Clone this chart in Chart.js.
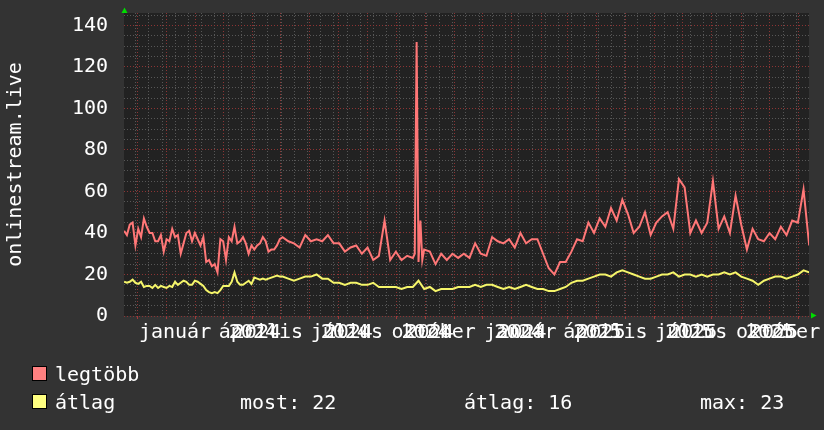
<!DOCTYPE html>
<html lang="hu">
<head>
  <meta charset="UTF-8" />
  <title>onlinestream.live</title>
  <script src="https://cdn.jsdelivr.net/npm/chart.js@4.4.1/dist/chart.umd.min.js"></script>
  <style>
    html, body { margin: 0; padding: 0; background: #333333; }
    #wrap { width: 824px; height: 430px; }
  </style>
</head>
<body>
  <div id="wrap"><canvas id="graph" width="824" height="430"></canvas></div>

  <script>
    // x values are days counted from 2023-12-01
    const rangeStart = -14.1;
    const rangeEnd = 711.8;

    // legtöbb (max)
    const maxDays = [
      -14, -11, -8, -5, -2, 1, 4, 7, 10, 13, 16, 19, 22, 25, 28, 31, 34, 37, 40, 43,
      46, 49, 52, 55, 58, 61, 64, 67, 70, 73, 76, 79, 82, 85, 88, 91, 94, 97, 100, 103,
      106, 109, 112, 115, 118, 121, 124, 127, 130, 133, 136, 139, 142, 145, 148, 151,
      154, 160, 166, 172, 178, 184, 190, 196, 202, 208, 214, 220, 226, 232, 238, 244,
      250, 256, 262, 268, 274, 280, 286,
      292, 294, 296, 298, 300, 302, 304,
      310, 316, 322, 328, 334, 340, 346, 352, 358, 364, 370, 376, 382, 388, 394, 400,
      406, 412, 418, 424, 430, 436, 442, 448, 454, 460, 466, 472, 478, 484, 490, 496,
      502, 508, 514, 520, 526, 532, 538, 544, 550, 556, 562, 568, 574, 580, 586, 592,
      598, 604, 610, 616, 622, 628, 634, 640, 646, 652, 658, 664, 670, 676, 682, 688,
      694, 700, 706, 712
    ];
    const maxValues = [
      41, 39, 44, 45, 34, 42, 38, 47, 43, 40, 40, 36, 36, 39, 31, 37, 36, 42, 38, 39,
      30, 35, 40, 41, 36, 40, 37, 34, 38, 26, 27, 24, 25, 21, 37, 36, 27, 38, 36, 43,
      35, 36, 38, 35, 30, 34, 32, 34, 35, 38, 36, 31, 32, 32, 34, 37,
      38, 36, 35, 33, 39, 36, 37, 36, 39, 35, 35, 31, 33, 34, 30, 33,
      27, 29, 46, 27, 31, 27, 29,
      28, 30, 132, 26, 46, 27, 32,
      31, 25, 30, 27, 30, 28, 30, 28, 35, 30, 29, 38, 36, 35, 37, 33,
      40, 35, 37, 37, 30, 23, 20, 26, 26, 31, 37, 36, 45, 40, 47, 43,
      52, 46, 56, 49, 40, 43, 50, 39, 45, 48, 50, 42, 66, 62, 40, 46,
      40, 45, 65, 42, 48, 40, 58, 44, 32, 42, 37, 36, 40, 37, 43, 39,
      46, 45, 61, 34
    ];

    // átlag (average)
    const avgDays = [
      -14, -11, -8, -5, -2, 1, 4, 7, 10, 13, 16, 19, 22, 25, 28, 31, 34, 37, 40, 43,
      46, 49, 52, 55, 58, 61, 64, 67, 70, 73, 76, 79, 82, 85, 88, 91, 94, 97, 100, 103,
      106, 109, 112, 115, 118, 121, 124, 127, 130, 133, 136, 139, 142, 145, 148, 151,
      154, 160, 166, 172, 178, 184, 190, 196, 202, 208, 214, 220, 226, 232, 238, 244,
      250, 256, 262, 268, 274, 280, 286, 292, 298, 304,
      310, 316, 322, 328, 334, 340, 346, 352, 358, 364, 370, 376, 382, 388, 394, 400,
      406, 412, 418, 424, 430, 436, 442, 448, 454, 460, 466, 472, 478, 484, 490, 496,
      502, 508, 514, 520, 526, 532, 538, 544, 550, 556, 562, 568, 574, 580, 586, 592,
      598, 604, 610, 616, 622, 628, 634, 640, 646, 652, 658, 664, 670, 676, 682, 688,
      694, 700, 706, 712
    ];
    const avgValues = [
      16.5, 16, 16.5, 17.5, 16, 15.5, 16.5, 14, 14.5, 14.5, 13.5, 15, 13.5, 14.5, 14, 13.5, 14.5, 14, 16.5, 15,
      16, 17, 16.5, 15, 15, 17, 16.5, 15.5, 14.5, 12.5, 11.5, 11, 11.5, 11, 12.5, 14.5, 14.5, 14.5, 16.5, 21,
      16.5, 15, 15, 16, 17, 15.5, 18.5, 18, 17.5, 18, 17.5, 18, 18.5, 19, 19.5, 19,
      19, 18, 17, 18, 19, 19, 20, 18, 18, 16, 16, 15,
      16, 16, 15, 15, 16, 14, 14, 14, 14, 13, 14,
      14, 17, 13,
      14, 12, 13, 13, 13, 14, 14, 14, 15, 14, 15, 15, 14, 13, 14, 13,
      14, 15, 14, 13, 13, 12, 12, 13, 14, 16, 17, 17, 18, 19, 20, 20,
      19, 21, 22, 21, 20, 19, 18, 18, 19, 20, 20, 21, 19, 20, 20, 19,
      20, 19, 20, 20, 21, 20, 21, 19, 18, 17, 15, 17, 18, 19, 19, 18,
      19, 20, 22, 21
    ];

    const monthDays = [0, 31, 62, 91, 122, 152, 183, 213, 244, 275, 305, 336,
                       366, 397, 428, 456, 487, 517, 548, 578, 609, 640, 670, 701];
    const quarterDays = [31, 122, 213, 305, 397, 487, 578, 670];
    const quarterLabels = ['január', 'április', 'július', 'október',
                           'január', 'április', 'július', 'október'];
    const yearLabels = ['', '2024', '2024', '2024', '2024', '2025', '2025', '2025'];

    const legendRows = [
      { label: 'legtöbb', stats: [] },
      { label: 'átlag', stats: ['most: 22', 'átlag: 16', 'max: 23'] }
    ];

    const FONT = 'DejaVu Sans Mono';
    const RED = '#ff7777';
    const YELLOW = '#f5f56a';
    const GRID_MINOR = '#575757';
    const GRID_MAJOR = '#8c3434';
    const LABEL_SHIFT = 9; // days

    function toPoints(days, values) {
      return values.map((v, i) => ({ x: days[i], y: v }));
    }

    // kiegészítések: háttér, évszámok, nyilak, jelmagyarázat
    const rrdExtras = {
      id: 'rrdExtras',
      beforeDraw(chart) {
        const { ctx, chartArea: a } = chart;
        ctx.save();
        ctx.fillStyle = '#333333';
        ctx.fillRect(0, 0, chart.width, chart.height);
        ctx.fillStyle = '#222222';
        ctx.fillRect(a.left, a.top, a.right - a.left, a.bottom - a.top);
        ctx.restore();
      },
      afterDraw(chart) {
        const { ctx, chartArea: a } = chart;
        const lab = chart.scales.xLabels;
        ctx.save();
        ctx.font = '20px "' + FONT + '"';
        ctx.fillStyle = '#ffffff';
        ctx.textAlign = 'center';
        ctx.textBaseline = 'middle';
        // az évszám a hónapnév második betűjénél kezdődik
        const cell = ctx.measureText('0').width;
        yearLabels.forEach((year, i) => {
          if (!year) return;
          const mid = lab.getPixelForValue(quarterDays[i] + LABEL_SHIFT);
          const left = mid - ctx.measureText(quarterLabels[i]).width / 2;
          const px = left + cell + ctx.measureText(year).width / 2;
          ctx.fillText(year, px - 2, lab.top + 17);
          ctx.fillText(year, px + 2, lab.top + 17);
        });

        // zöld nyilak
        ctx.fillStyle = '#00dd00';
        ctx.beginPath();
        ctx.moveTo(a.left - 2.5, 13);
        ctx.lineTo(a.left + 3.5, 13);
        ctx.lineTo(a.left + 0.5, 7.5);
        ctx.fill();
        ctx.beginPath();
        ctx.moveTo(a.right + 2, a.bottom - 3.5);
        ctx.lineTo(a.right + 2, a.bottom + 2.5);
        ctx.lineTo(a.right + 7.5, a.bottom - 0.5);
        ctx.fill();

        // jelmagyarázat
        const statX = [240, 464, 700];
        ctx.textAlign = 'left';
        ctx.textBaseline = 'alphabetic';
        legendRows.forEach((row, i) => {
          const y = 366.5 + i * 28;
          ctx.fillStyle = i === 0 ? '#ff8080' : '#ffff80';
          ctx.fillRect(32.5, y, 14, 14);
          ctx.strokeStyle = '#000000';
          ctx.lineWidth = 1;
          ctx.strokeRect(32.5, y, 14, 14);
          ctx.fillStyle = '#ffffff';
          ctx.fillText(row.label, 55, y + 14.5);
          row.stats.forEach((s, j) => ctx.fillText(s, statX[j], y + 14.5));
        });
        ctx.restore();
      }
    };

    const xRange = { min: rangeStart, max: rangeEnd };

    new Chart(document.getElementById('graph'), {
      type: 'line',
      data: {
        datasets: [
          {
            label: 'legtöbb',
            data: toPoints(maxDays, maxValues),
            borderColor: RED,
            borderWidth: 2,
            pointRadius: 0,
            tension: 0
          },
          {
            label: 'átlag',
            data: toPoints(avgDays, avgValues),
            borderColor: YELLOW,
            borderWidth: 2,
            pointRadius: 0,
            tension: 0
          }
        ]
      },
      options: {
        responsive: false,
        animation: false,
        events: [],
        layout: { padding: { left: 0, top: 13, right: 15, bottom: 0 } },
        plugins: { legend: { display: false }, tooltip: { enabled: false } },
        scales: {
          x: {
            type: 'linear', ...xRange,
            afterBuildTicks(scale) {
              const ticks = [];
              for (let d = -1.7; d < rangeEnd; d += 14) ticks.push({ value: d });
              scale.ticks = ticks;
            },
            afterFit(scale) { scale.height = 0; scale.paddingLeft = 0; scale.paddingRight = 0; },
            ticks: { display: false },
            grid: { color: GRID_MINOR, drawTicks: false },
            border: { display: false, dash: [1, 2] }
          },
          xMonths: {
            type: 'linear', position: 'bottom', ...xRange,
            afterBuildTicks(scale) { scale.ticks = monthDays.map(d => ({ value: d })); },
            afterFit(scale) { scale.height = 0; scale.paddingLeft = 0; scale.paddingRight = 0; },
            ticks: { display: false },
            grid: { color: GRID_MAJOR, drawTicks: true, tickLength: 3, tickColor: '#a03a3a' },
            border: { display: false, dash: [1, 2] }
          },
          xLabels: {
            type: 'linear', position: 'bottom', ...xRange,
            afterBuildTicks(scale) {
              scale.ticks = quarterDays.map(d => ({ value: d + LABEL_SHIFT }));
            },
            afterFit(scale) { scale.height = 114; scale.paddingLeft = 0; scale.paddingRight = 0; },
            ticks: {
              autoSkip: false, maxRotation: 0, minRotation: 0,
              color: '#ffffff', padding: 5,
              font: { family: FONT, size: 20 },
              callback: (v, i) => quarterLabels[i]
            },
            grid: { display: false, drawTicks: false },
            border: { display: false }
          },
          y: {
            min: 0, max: 146,
            afterBuildTicks(scale) {
              const ticks = [];
              for (let v = 0; v <= 145; v += 5) ticks.push({ value: v });
              scale.ticks = ticks;
            },
            afterFit(scale) { scale.width = 124; scale.paddingTop = 0; scale.paddingBottom = 0; },
            ticks: {
              autoSkip: false, color: '#ffffff', padding: 16,
              font: { family: FONT, size: 20 },
              callback: v => (v % 20 === 0 ? v : '')
            },
            grid: {
              drawTicks: false,
              color: ctx => (ctx.tick && ctx.tick.value % 20 === 0 ? GRID_MAJOR : GRID_MINOR)
            },
            border: { display: false, dash: [1, 2] },
            title: {
              display: true, text: 'onlinestream.live', color: '#ffffff',
              font: { family: FONT, size: 20 }, padding: { top: 4, bottom: 0 }
            }
          }
        }
      },
      plugins: [rrdExtras]
    });
  </script>
</body>
</html>
